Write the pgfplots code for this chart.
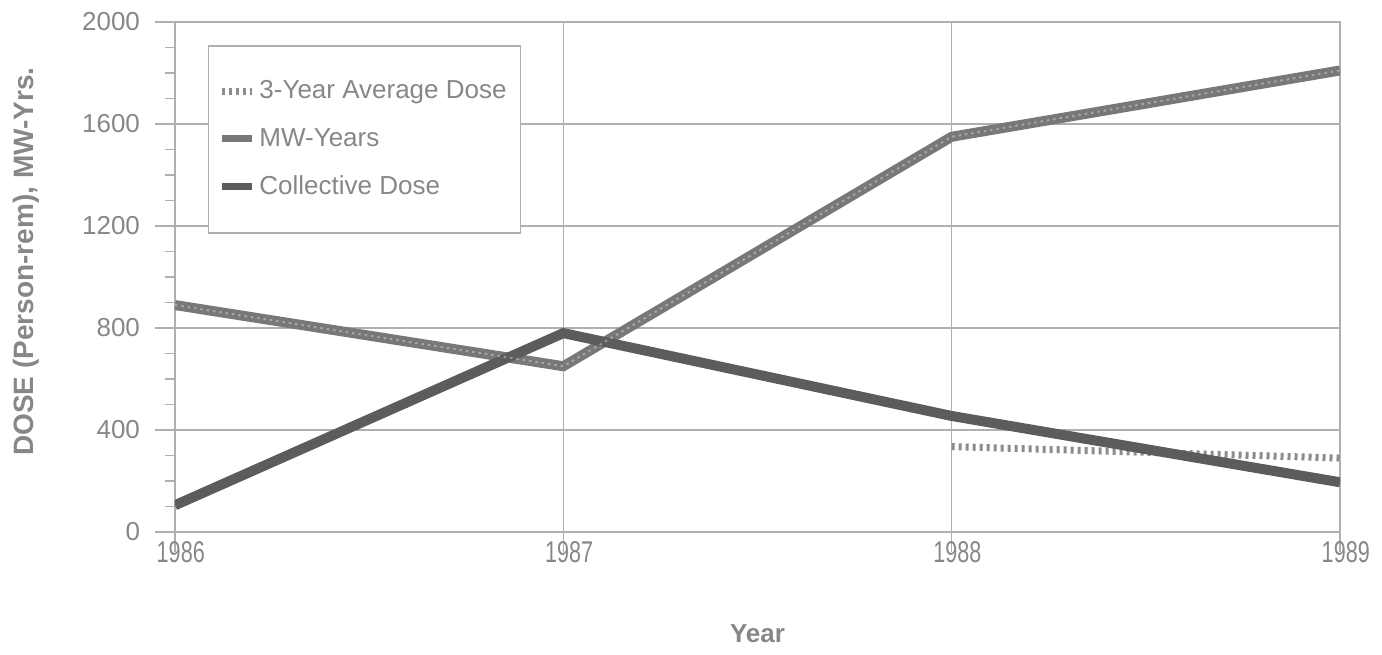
\documentclass[border=0pt]{standalone}
\usepackage{pgfplots}
\pgfplotsset{compat=1.18}
\usepackage{fontspec}
\setmainfont{Liberation Sans}
\definecolor{txt}{RGB}{135,135,135}
\definecolor{gridc}{RGB}{175,175,175}
\definecolor{mwc}{RGB}{120,120,120}
\definecolor{cdc}{RGB}{92,92,92}
\definecolor{avc}{RGB}{140,140,140}
\begin{document}
\begin{tikzpicture}
\begin{axis}[
  name=ax,
  scale only axis, width=582.5pt, height=255pt,
  xmin=1986, xmax=1989, ymin=0, ymax=2000,
  xtick={1986,1987,1988,1989},
  xticklabels={1986,1987,1988,1989},
  ytick={0,400,800,1200,1600,2000},
  yticklabels={0,400,800,1200,1600,2000},
  minor y tick num=3,
  tick pos=left,
  tick align=outside,
  major tick length=10pt, minor tick length=5pt,
  grid=major,
  major grid style={gridc, line width=0.8pt},
  axis line style={gridc, line width=0.8pt},
  tick style={gridc, line width=0.8pt},
  every tick label/.append style={text=txt, font=\fontsize{13}{15}\selectfont},
  xticklabel style={font=\fontsize{15}{17}\selectfont, xscale=0.72, xshift=4pt, yshift=9pt},
  yticklabel style={xshift=-4pt},
  xlabel={Year},
  ylabel={DOSE (Person-rem), MW-Yrs.},
  xlabel style={font=\bfseries\fontsize{13}{15}\selectfont, text=txt, at={(axis description cs:0.5,-0.2)}, anchor=center},
  ylabel style={font=\bfseries\fontsize{14}{16}\selectfont, text=txt, at={(axis description cs:-0.128,0.53)}, anchor=center},
  legend style={at={(axis description cs:0.028,0.955)}, anchor=north west,
    draw=gridc, line width=0.8pt, fill=white, text=txt,
    font=\fontsize{13}{15}\selectfont,
    inner xsep=5pt, inner ysep=15.5pt, row sep=9.3pt},
  legend cell align=left,
  legend image code/.code={\draw[#1, line width=3.5pt] (0pt,0pt) -- (15pt,0pt);},
]
\addplot[avc, line width=3.5pt, dash pattern=on 1.5pt off 2pt] coordinates {(1988,335) (1989,290)};
\addlegendentry{3-Year Average Dose}
\addplot[mwc, line width=5pt] coordinates {(1986,890) (1987,650) (1988,1550) (1989,1810)};
\addlegendentry{MW-Years}
\addplot[cdc, line width=5pt] coordinates {(1986,105) (1987,780) (1988,455) (1989,195)};
\addlegendentry{Collective Dose}
\addplot[forget plot, white, opacity=0.35, line width=1pt, dash pattern=on 1.2pt off 2pt] coordinates {(1986,890) (1987,650) (1988,1550) (1989,1810)};
\end{axis}
\pgfresetboundingbox
\path ([xshift=-87.5pt,yshift=-61pt]ax.south west) rectangle ([xshift=21pt,yshift=11pt]ax.north east);
\end{tikzpicture}
\end{document}
